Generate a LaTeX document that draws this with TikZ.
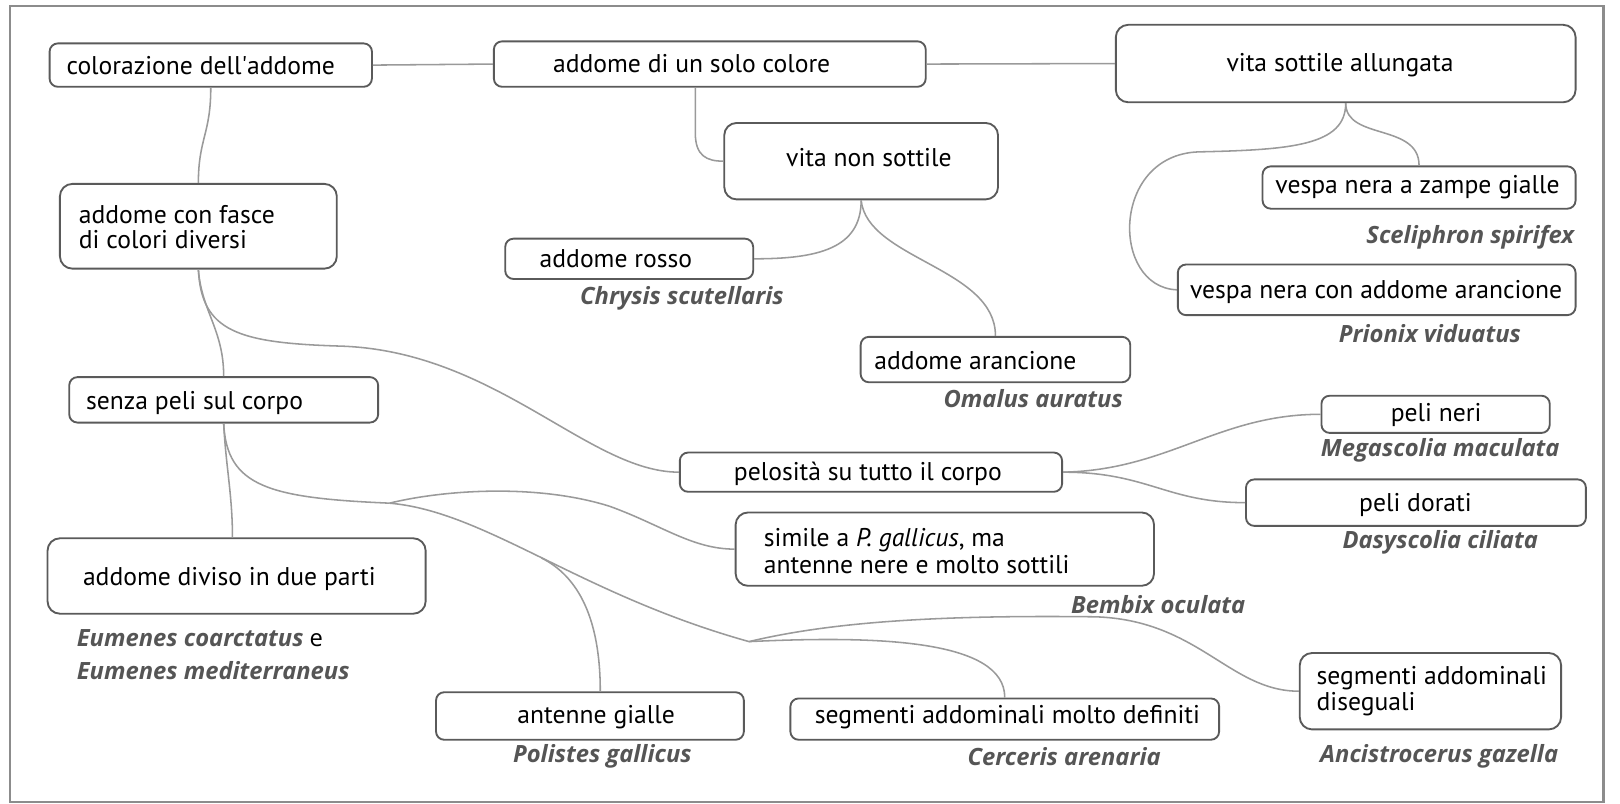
\documentclass[tikz,border=0pt]{standalone}
\usepackage{fontspec}
\setmainfont{PT Sans}
\newfontfamily\spfont{Open Sans}
\usetikzlibrary{calc}
\definecolor{boxc}{HTML}{5A5A5A}
\definecolor{linec}{HTML}{9A9A9A}
\definecolor{spc}{HTML}{555555}
\definecolor{framec}{HTML}{8C8C8C}
\begin{document}
\begin{tikzpicture}[x=0.5pt,y=-0.5pt,
  box/.style={draw=boxc, line width=0.9pt, rounded corners=4pt, inner sep=0pt, fill=white},
  bigbox/.style={box, rounded corners=6pt},
  txt/.style={inner sep=0pt, font=\fontsize{12.4}{12.2}\selectfont, text=black, align=left},
  sp/.style={inner sep=0pt, font=\spfont\bfseries\itshape\fontsize{11.5}{16}\selectfont, text=spc, align=left},
  conn/.style={draw=linec, line width=0.75pt}]
\useasboundingbox (0,0) rectangle (1568,778);
\draw[framec, line width=1pt] (10,6) rectangle (1552,776);

% boxes
\node[box, minimum width=156pt, minimum height=21pt] (col) at (204,63) {};
\node[box, minimum width=209pt, minimum height=22pt] (uno) at (687,62) {};
\node[bigbox, minimum width=222.5pt, minimum height=37.5pt] (sot) at (1302.5,61.5) {};
\node[bigbox, minimum width=132.5pt, minimum height=37pt] (nns) at (833.5,156) {};
\node[bigbox, minimum width=134pt, minimum height=41pt] (fas) at (192,219) {};
\node[box, minimum width=120pt, minimum height=19.5pt] (ros) at (609,250.5) {};
\node[box, minimum width=151.5pt, minimum height=20.5pt] (zam) at (1373.5,181.5) {};
\node[box, minimum width=192.5pt, minimum height=24.5pt] (ara1) at (1332.5,280.5) {};
\node[box, minimum width=130.5pt, minimum height=22pt] (ara2) at (963.5,348) {};
\node[box, minimum width=149.5pt, minimum height=22pt] (sen) at (216.5,387) {};
\node[box, minimum width=110.5pt, minimum height=18pt] (ner) at (1389.5,401) {};
\node[box, minimum width=185pt, minimum height=19pt] (pel) at (843,457) {};
\node[box, minimum width=164.5pt, minimum height=22.5pt] (dor) at (1370.5,486.5) {};
\node[bigbox, minimum width=202.5pt, minimum height=35.5pt] (sim) at (914.5,531.5) {};
\node[bigbox, minimum width=183pt, minimum height=36.5pt] (div) at (229,557.5) {};
\node[box, minimum width=149pt, minimum height=23pt] (ant) at (571,693) {};
\node[box, minimum width=207.5pt, minimum height=20pt] (mol) at (972.5,696) {};
\node[bigbox, minimum width=126.5pt, minimum height=37pt] (dis) at (1384.5,669) {};

% junctions
\coordinate (j1) at (377,487);
\coordinate (j2) at (524,540);
\coordinate (j3) at (725,621);

% connectors
\draw[conn] (col.east) -- (uno.west);
\draw[conn] (uno.east) -- (sot.west);
\draw[conn] ($(uno.south)+(-14,0)$) -- ++(0,44) .. controls +(0,22) and +(-16,0) .. (nns.west);
\draw[conn] (col.south) .. controls +(0,45) and +(0,-43) .. (fas.north);
\draw[conn] (sot.south) .. controls +(0,36) and +(0,-41) .. (zam.north);
\draw[conn] (sot.south) .. controls +(0,41) and (1250,145) .. (1160,147) .. controls (1075,150) and (1075,278) .. (ara1.west);
\draw[conn] (nns.south) .. controls +(0,47) and +(61,0) .. (ros.east);
\draw[conn] (nns.south) .. controls +(6,57) and +(0,-66) .. (ara2.north);
\draw[conn] (fas.south) .. controls +(3,40) and +(0,-45) .. (sen.north);
\draw[conn] (fas.south) .. controls +(3,60) and (230,332) .. (330,335) .. controls (480,340) and (570,457) .. (pel.west);
\draw[conn] (sen.south) .. controls +(2,41) and +(0,-41) .. ($(div.north)+(-4,0)$);
\draw[conn] (sen.south) .. controls +(3,61) and +(-117,-5) .. (j1);
\draw[conn] (j1) .. controls +(53,-13) and (520,468) .. (590,490) .. controls (640,508) and (670,531.5) .. (sim.west);
\draw[conn] (j1) .. controls +(93,8) and (560,575) .. (j3);
\draw[conn] (j2) .. controls +(36,18) and +(0,-70) .. ($(ant.north)+(10,0)$);
\draw[conn] (j3) .. controls +(125,-6) and +(0,-56) .. (mol.north);
\draw[conn] (j3) .. controls +(75,-18) and (900,595) .. (1060,597) .. controls (1160,600) and (1190,669) .. (dis.west);
\draw[conn] (pel.east) .. controls +(102,-2) and +(-99,0) .. (ner.west);
\draw[conn] (pel.east) .. controls +(82,0) and +(-76,0) .. (dor.west);

% box texts
\node[txt, anchor=west] (tcol) at (64,63) {colorazione dell\textquotesingle addome};
\node[txt, anchor=west] (tuno) at (535,62) {addome di un solo colore};
\node[txt] (tsot) at (1297,63) {vita sottile allungata};
\node[txt] (tnns) at (841,153) {vita non sottile};
\node[txt, anchor=west] (tfas) at (76,220) {addome con fasce\\di colori diversi};
\node[txt, anchor=west] (tros) at (522,250) {addome rosso};
\node[txt] (tzam) at (1372,181) {vespa nera a zampe gialle};
\node[txt] (tara1) at (1332,283) {vespa nera con addome arancione};
\node[txt, anchor=west] (tara2) at (846,349) {addome arancione};
\node[txt, anchor=west] (tsen) at (83,390) {senza peli sul corpo};
\node[txt] (tner) at (1390,402) {peli neri};
\node[txt] (tpel) at (840,459) {pelosità su tutto il corpo};
\node[txt] (tdor) at (1370,489) {peli dorati};
\node[txt, anchor=west, font=\fontsize{12.4}{13}\selectfont] (tsim) at (739,533) {simile a \textit{P. gallicus}, ma\\antenne nere e molto sottili};
\node[txt] (tdiv) at (222,560) {addome diviso in due parti};
\node[txt] (tant) at (577,694) {antenne gialle};
\node[txt] (tmol) at (975,694) {segmenti addominali molto definiti};
\node[txt, anchor=west] (tdis) at (1274,669) {segmenti addominali\\diseguali};

% species
\node[sp] (schr) at (660,289) {Chrysis scutellaris};
\node[sp] (ssce) at (1423,230) {Sceliphron spirifex};
\node[sp] (spri) at (1384,323) {Prionix viduatus};
\node[sp] (soma) at (1000,386) {Omalus auratus};
\node[sp] (smeg) at (1394,436) {Megascolia maculata};
\node[sp] (sdas) at (1394,525) {Dasyscolia ciliata};
\node[sp] (sbem) at (1121,585) {Bembix oculata};
\node[sp, anchor=west] (seum) at (74,634) {Eumenes coarctatus {\upshape\mdseries\color{black} e}\\Eumenes mediterraneus};
\node[sp] (spol) at (583,732) {Polistes gallicus};
\node[sp] (scer) at (1030,732) {Cerceris arenaria};
\node[sp] (sanc) at (1393,732) {Ancistrocerus gazella};
\end{tikzpicture}
\end{document}
